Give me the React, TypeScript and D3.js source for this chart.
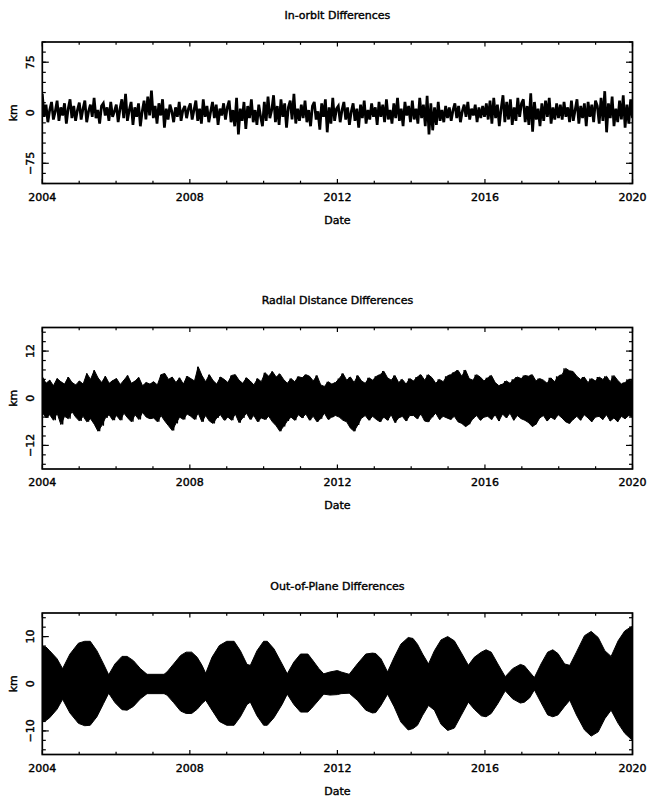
import React from "react";
import * as d3 from "d3";

const W = 647;
const H = 798;
const X0 = 42.3;
const X1 = 632.5;
const PANEL_H = 141.5;
const panelTops = [42, 327.5, 613];

const xTickYears = [2004, 2008, 2012, 2016, 2020];
const xMinorYears = [2005, 2006, 2007, 2009, 2010, 2011, 2013, 2014, 2015, 2017, 2018, 2019];

const titles = ["In-orbit Differences", "Radial Distance Differences", "Out-of-Plane Differences"];
const yDomains = [[-105, 105], [-18, 18], [-15, 15]];
const yMajorTicks = [[-75, 0, 75], [-12, 0, 12], [-10, 0, 10]];
const yMinorSteps = [15, 2.4, 2];

// In-orbit differences (km), 20 samples per year, 2004-2020
const inOrbit = [
  28, -6, 12, -14, 4, 16, -10, 2, 18, -12, 8, -4, 14, -16, 6, 20, -8, 10, -12, 4,
  15, -10, 6, 18, -14, 2, 12, -6, 22, -8, 4, -16, 10, 14, -4, 8, -12, 16, -6, 2,
  12, -14, 6, 20, -8, 28, -12, 4, 16, -18, 8, -6, 14, -20, 2, 18, -10, 24, -4, 33,
  -8, 10, -16, 14, -4, 20, -22, 6, -10, 12, 2, -14, 8, -6, 16, -12, 4, 10, -8, 6,
  14, -10, 4, 18, -12, 6, -16, 20, -6, 10, -14, 2, 16, -8, 12, -18, 6, -4, 14, -10,
  8, 18, -14, 4, -20, 22, -32, 6, -12, 16, -24, 10, -8, 20, -14, 4, -18, 12, -6, -20,
  16, -12, 24, -8, 4, 26, -14, 10, -18, 20, -6, 14, -22, 8, 18, -10, 28, -16, 6, -12,
  12, -8, 18, -14, 4, -20, 10, 16, -10, 2, -25, 14, -6, 20, -29, 8, -16, 22, -12, 6,
  10, -14, 4, 16, -10, 8, -18, 2, 14, -12, 6, -22, 12, -8, 18, -16, 4, -10, 14, -6,
  8, -18, 16, -6, 12, -14, 20, -10, 4, -16, 14, -8, 22, -12, 6, -20, 16, -4, 10, -14,
  18, -10, 6, -16, 22, -8, 12, -20, 25, -32, 14, -26, 8, -18, 16, -12, 4, -14, 10, -8,
  8, -12, 4, 14, -8, 10, -14, 2, 12, -6, 16, -10, 6, -4, 12, -14, 8, -8, 10, -6,
  14, -10, 18, -16, 22, -8, 12, -20, 6, 26, -14, 16, -10, 20, -18, 8, -12, 22, -6, 14,
  20, -14, 10, -18, 29, -28, 16, -10, 6, -20, 14, -12, 18, -6, 22, -16, 8, -10, 14, -8,
  12, -10, 16, -6, 8, -14, 18, -12, 4, 20, -16, 10, -8, 14, -20, 16, -6, 12, -14, 18,
  10, -16, 22, -12, 32, -29, 14, -8, 24, -20, 6, -14, 18, -10, 26, -22, 12, -16, 20, -8,
];

// Radial distance: highs and lows (km)
const radialHighs = [
  5.5, 3.8, 4.6, 3.2, 5.0, 4.2, 3.6, 5.4, 4.0, 3.4,
  4.4, 3.6, 6.3, 4.8, 7.1, 5.2, 4.0, 5.6, 3.8, 4.5,
  5.0, 3.5, 4.6, 5.8, 3.8, 4.4, 5.3, 3.2, 4.0, 3.6,
  4.2, 3.4, 6.0, 6.3, 4.8, 5.4, 4.0, 5.2, 3.6, 5.6,
  5.0, 4.4, 8.0, 5.8, 4.2, 6.0, 4.5, 3.6, 5.4, 4.8,
  4.0, 5.8, 6.0, 4.6, 3.8, 5.2, 4.4, 3.4, 5.0, 4.2,
  6.5, 5.6, 6.8, 5.4, 6.2, 4.8, 3.8, 5.0, 4.2, 5.5,
  5.2, 6.0, 5.6, 4.4, 5.8, 3.4, 3.0, 4.2, 3.6, 4.0,
  5.0, 6.3, 4.6, 5.4, 4.0, 5.8, 4.4, 3.8, 5.2, 4.6,
  5.6, 6.0, 6.9, 5.2, 4.6, 5.8, 4.0, 4.8, 3.6, 5.0,
  4.4, 5.4, 6.0, 4.6, 6.0, 5.2, 3.8, 4.8, 4.2, 5.6,
  6.0, 6.6, 7.1, 5.6, 7.2, 5.0, 4.6, 6.0, 5.4, 4.4,
  5.2, 5.8, 4.0, 3.2, 3.6, 4.4, 3.8, 4.8, 5.4, 5.0,
  5.8, 5.6, 6.0, 4.4, 5.0, 4.6, 3.8, 5.2, 4.2, 5.6,
  6.0, 7.6, 7.0, 6.8, 5.6, 4.8, 5.4, 4.0, 5.0, 4.4,
  5.4, 4.8, 5.6, 4.2, 5.8, 4.6, 3.6, 4.0, 4.8, 4.4,
];
const radialLows = [
  -3.6, -5.0, -4.2, -5.6, -3.8, -6.7, -4.6, -5.2, -3.4, -4.8,
  -5.8, -4.6, -6.0, -5.2, -6.6, -8.4, -7.0, -5.0, -4.2, -5.6,
  -4.4, -5.6, -3.8, -5.0, -6.0, -4.2, -5.4, -3.6, -4.8, -5.2,
  -5.0, -6.0, -4.4, -5.8, -7.0, -8.2, -6.4, -4.8, -5.4, -4.0,
  -4.6, -5.4, -3.8, -6.0, -4.4, -5.8, -6.4, -5.0, -4.2, -5.6,
  -4.8, -5.6, -4.0, -6.2, -5.0, -3.8, -5.4, -4.4, -6.0, -5.0,
  -5.4, -4.6, -6.0, -7.0, -8.4, -7.2, -5.8, -4.8, -5.6, -4.2,
  -5.0, -4.0, -5.6, -4.6, -6.0, -5.2, -3.8, -5.4, -4.8, -4.4,
  -4.8, -5.6, -6.0, -7.6, -8.4, -6.8, -5.0, -4.4, -5.6, -4.6,
  -5.4, -6.0, -4.8, -5.6, -4.2, -6.2, -5.0, -4.6, -5.8, -4.4,
  -4.4, -5.2, -4.0, -5.8, -6.0, -4.8, -3.8, -5.4, -4.6, -5.0,
  -5.4, -4.6, -6.0, -6.4, -7.2, -6.6, -5.2, -4.4, -5.6, -4.8,
  -4.6, -5.4, -4.2, -5.8, -4.0, -5.0, -3.8, -5.6, -4.4, -5.2,
  -5.6, -6.2, -7.2, -6.6, -5.0, -4.4, -5.8, -4.8, -5.4, -4.2,
  -5.0, -6.0, -6.4, -5.4, -4.6, -5.6, -4.2, -5.0, -6.0, -4.8,
  -4.6, -5.4, -4.2, -5.8, -5.0, -6.0, -4.6, -5.2, -4.4, -4.8,
];

// Out-of-plane: envelope of the fast oscillation (km)
const oopYears = [
  2004.0, 2004.1, 2004.2, 2004.4, 2004.55, 2004.75, 2004.98, 2005.15, 2005.3, 2005.48,
  2005.66, 2005.8, 2005.97, 2006.16, 2006.3, 2006.47, 2006.66, 2006.84, 2007.3, 2007.38,
  2007.56, 2007.75, 2007.9, 2008.05, 2008.2, 2008.33, 2008.43, 2008.6, 2008.8, 2009.0,
  2009.2, 2009.37, 2009.55, 2009.64, 2009.82, 2010.0, 2010.1, 2010.28, 2010.5, 2010.64,
  2010.82, 2011.0, 2011.2, 2011.3, 2011.5, 2011.63, 2011.8, 2012.0, 2012.1, 2012.32,
  2012.54, 2012.77, 2012.95, 2013.04, 2013.18, 2013.36, 2013.54, 2013.72, 2013.92, 2014.05,
  2014.17, 2014.31, 2014.47, 2014.63, 2014.81, 2014.99, 2015.17, 2015.35, 2015.55, 2015.71,
  2015.9, 2016.03, 2016.17, 2016.35, 2016.55, 2016.75, 2016.96, 2017.07, 2017.21, 2017.34,
  2017.52, 2017.7, 2017.84, 2017.98, 2018.16, 2018.3, 2018.48, 2018.7, 2018.88, 2019.07,
  2019.25, 2019.42, 2019.61, 2019.79, 2019.97, 2020.0,
];
const oopUpper = [
  7.9, 7.8, 7.0, 5.3, 3.2, 6.3, 8.6, 9.0, 9.0, 7.0,
  4.2, 1.9, 4.2, 5.8, 5.8, 4.9, 3.2, 2.0, 2.0, 2.5,
  4.2, 6.0, 6.7, 6.7, 5.6, 3.9, 2.2, 5.6, 8.1, 9.0,
  9.0, 7.0, 4.1, 3.9, 7.0, 9.0, 9.0, 7.4, 4.2, 2.1,
  4.6, 6.3, 6.3, 5.3, 3.2, 2.1, 2.5, 2.8, 2.5, 2.0,
  4.2, 6.3, 6.5, 6.4, 5.3, 2.5, 5.6, 8.4, 9.8, 9.6,
  8.4, 6.3, 4.2, 7.0, 9.3, 10.0, 9.1, 6.7, 3.9, 5.6,
  6.7, 7.2, 6.7, 4.2, 1.5, 3.2, 4.1, 3.8, 2.5, 1.3,
  4.2, 6.7, 7.2, 6.4, 4.2, 3.9, 6.7, 10.2, 11.1, 9.8,
  7.0, 5.8, 9.1, 11.2, 12.1, 12.1,
];
const oopLower = [
  -7.9, -7.8, -7.2, -5.4, -3.3, -6.2, -8.4, -8.9, -8.8, -7.0,
  -4.2, -2.0, -4.0, -5.5, -5.6, -4.8, -3.2, -2.1, -2.1, -2.4,
  -4.0, -5.8, -6.3, -6.3, -5.4, -4.2, -3.5, -5.6, -8.0, -8.8,
  -8.8, -7.0, -4.4, -3.9, -6.8, -8.8, -8.8, -7.2, -4.4, -2.2,
  -4.4, -6.0, -6.0, -5.2, -3.4, -2.2, -2.4, -2.3, -2.1, -2.0,
  -3.5, -5.6, -6.2, -6.1, -4.6, -2.2, -4.9, -8.1, -9.8, -9.5,
  -8.8, -6.7, -4.6, -5.6, -8.6, -9.9, -9.4, -6.8, -3.9, -5.4,
  -6.8, -7.0, -6.3, -4.2, -1.5, -3.2, -4.1, -3.9, -3.0, -1.3,
  -4.0, -6.6, -7.0, -6.6, -4.8, -3.5, -6.6, -9.8, -11.1, -10.2,
  -7.4, -5.6, -8.4, -10.5, -11.8, -11.9,
];

const x = d3.scaleLinear().domain([2004, 2020]).range([X0, X1]);

function zigzag(highs: number[], lows: number[]) {
  const n = highs.length * 2;
  const step = 16 / (n - 1);
  const pts: [number, number][] = [];
  highs.forEach((h, i) => {
    pts.push([2004 + 2 * i * step, h]);
    pts.push([2004 + (2 * i + 1) * step, lows[i]]);
  });
  return pts;
}

const fmt = (v: number) => (v < 0 ? "\u2212" + Math.abs(v) : String(v));

function Panel({ idx }: { idx: number }) {
  const top = panelTops[idx];
  const bottom = top + PANEL_H;
  const [lo, hi] = yDomains[idx];
  const y = d3.scaleLinear().domain([lo, hi]).range([bottom, top]);
  const step = yMinorSteps[idx];
  const minor: number[] = [];
  for (let k = Math.ceil(lo / step - 1e-6); k <= Math.floor(hi / step + 1e-6); k++) minor.push(k * step);
  const clipId = `clip${idx}`;

  let mark: React.ReactNode = null;
  const line = d3.line<[number, number]>().x((d) => x(d[0])).y((d) => y(d[1]));
  if (idx === 0) {
    const dt = 16 / (inOrbit.length - 1);
    const pts: [number, number][] = inOrbit.map((v, i) => [2004 + i * dt, v]);
    mark = (
      <path d={line(pts) || ""} fill="none" stroke="#000" strokeWidth={2.7} strokeLinejoin="miter" strokeMiterlimit={3} />
    );
  } else if (idx === 1) {
    const n = radialHighs.length;
    const stepT = 16 / (n - 1);
    const band = d3
      .area<number>()
      .x((_, i) => x(2004 + i * stepT))
      .y0((_, i) => y(radialLows[i]))
      .y1((_, i) => y(radialHighs[i]));
    const pts = zigzag(radialHighs, radialLows);
    mark = (
      <g>
        <path d={band(radialHighs) || ""} fill="#000" stroke="#000" strokeWidth={1} />
        <path d={line(pts) || ""} fill="none" stroke="#000" strokeWidth={1.4} />
      </g>
    );
  } else {
    const area = d3
      .area<number>()
      .x((_, i) => x(oopYears[i]))
      .y0((_, i) => y(oopLower[i]))
      .y1((_, i) => y(oopUpper[i]));
    mark = <path d={area(oopYears) || ""} fill="#000" stroke="#000" strokeWidth={1} />;
  }

  const midX = (X0 + X1) / 2;
  return (
    <g>
      <defs>
        <clipPath id={clipId}>
          <rect x={X0} y={top} width={X1 - X0} height={PANEL_H} />
        </clipPath>
      </defs>
      <g clipPath={`url(#${clipId})`}>{mark}</g>
      <g stroke="#000" strokeWidth={1.2}>
        {xTickYears.map((yr) => (
          <g key={"xM" + yr}>
            <line x1={x(yr)} x2={x(yr)} y1={bottom} y2={bottom - 4.5} />
            <line x1={x(yr)} x2={x(yr)} y1={top} y2={top + 4.5} />
          </g>
        ))}
        {xMinorYears.map((yr) => (
          <g key={"xm" + yr}>
            <line x1={x(yr)} x2={x(yr)} y1={bottom} y2={bottom - 2.8} />
            <line x1={x(yr)} x2={x(yr)} y1={top} y2={top + 2.8} />
          </g>
        ))}
        {minor.map((v) => (
          <g key={"ym" + v}>
            <line x1={X0} x2={X0 + 3.5} y1={y(v)} y2={y(v)} />
            <line x1={X1} x2={X1 - 3.5} y1={y(v)} y2={y(v)} />
          </g>
        ))}
        {yMajorTicks[idx].map((v) => (
          <g key={"yM" + v}>
            <line x1={X0} x2={X0 + 6.5} y1={y(v)} y2={y(v)} />
            <line x1={X1} x2={X1 - 6.5} y1={y(v)} y2={y(v)} />
          </g>
        ))}
      </g>
      <rect x={X0} y={top} width={X1 - X0} height={PANEL_H} fill="none" stroke="#000" strokeWidth={1.7} />
      <g fontFamily="'DejaVu Sans', sans-serif" fontSize={11} fill="#000" stroke="#000" strokeWidth={0.4}>
        <text x={midX} y={top - 23.5} textAnchor="middle">
          {titles[idx]}
        </text>
        {xTickYears.map((yr) => (
          <text key={"xl" + yr} x={x(yr)} y={bottom + 17} textAnchor="middle">
            {yr}
          </text>
        ))}
        <text x={midX} y={bottom + 40} textAnchor="middle">
          Date
        </text>
        {yMajorTicks[idx].map((v) => (
          <text key={"yl" + v} transform={`translate(34,${y(v)}) rotate(-90)`} textAnchor="middle">
            {fmt(v)}
          </text>
        ))}
        <text transform={`translate(16.5,${(top + bottom) / 2}) rotate(-90)`} textAnchor="middle">
          km
        </text>
      </g>
    </g>
  );
}

export default function App() {
  return (
    <svg
      width={W}
      height={H}
      viewBox={`0 0 ${W} ${H}`}
      style={{ position: "absolute", left: 0, top: 0, background: "#fff" }}
    >
      <rect x={0} y={0} width={W} height={H} fill="#fff" />
      {[0, 1, 2].map((i) => (
        <Panel key={i} idx={i} />
      ))}
    </svg>
  );
}
